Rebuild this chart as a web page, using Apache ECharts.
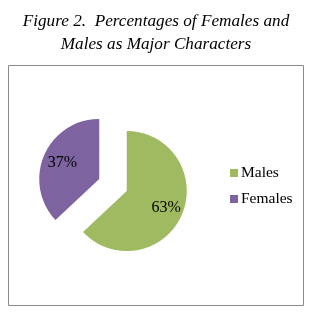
<!DOCTYPE html>
<html><head><meta charset="utf-8">
<script src="https://cdn.jsdelivr.net/npm/echarts@6/dist/echarts.min.js"></script>
<style>html,body{margin:0;padding:0;background:#fff}#c{width:312px;height:320px}</style>
</head><body><div id="c"></div>
<script>
const categories = ['Males', 'Females'];
const values = [63, 37];
const colors = ['#9FBA60', '#7D63A0'];
const titleText = 'Figure 2.  Percentages of Females and\nMales as Major Characters';

const chart = echarts.init(document.getElementById('c'));
const labelRadius = [80, 74];
const baseData = () => categories.map((c, i) => ({
  name: c, value: values[i], selected: true, itemStyle: { color: colors[i] }
}));
const labelSeries = categories.map((_, j) => ({
  type: 'pie', center: [113, 185], radius: labelRadius[j], startAngle: 90, clockwise: true,
  selectedMode: 'multiple', selectedOffset: 15, silent: true,
  labelLine: { show: false }, emphasis: { disabled: true },
  label: { position: 'inner', formatter: '{c}%', fontFamily: 'Liberation Serif', fontSize: 16, color: '#000' },
  data: categories.map((c, i) => ({
    name: c, value: values[i], selected: true,
    itemStyle: { color: 'rgba(0,0,0,0)' },
    label: { show: i === j }
  }))
}));
chart.setOption({
  animation: false,
  title: {
    text: titleText, left: 'center', top: 5,
    textStyle: { fontFamily: 'Liberation Serif', fontStyle: 'italic', fontWeight: 'normal', fontSize: 17.2, lineHeight: 23, color: '#000' }
  },
  graphic: [{
    type: 'rect', shape: { x: 8.5, y: 65.5, width: 295, height: 240 },
    style: { fill: 'none', stroke: '#8a8a8a', lineWidth: 1 }, silent: true
  }],
  legend: {
    data: categories, orient: 'vertical', left: 225, top: 160,
    itemWidth: 8, itemHeight: 8, itemGap: 10, icon: 'rect', selectedMode: false,
    textStyle: { fontFamily: 'Liberation Serif', fontSize: 15.5, color: '#000', padding: [0,0,0,-2] }
  },
  series: [{
    type: 'pie', center: [113, 185], radius: 60, startAngle: 90, clockwise: true,
    selectedMode: 'multiple', selectedOffset: 15,
    label: { show: false }, labelLine: { show: false },
    data: baseData(), emphasis: { disabled: true }
  }].concat(labelSeries)
});
</script></body></html>
